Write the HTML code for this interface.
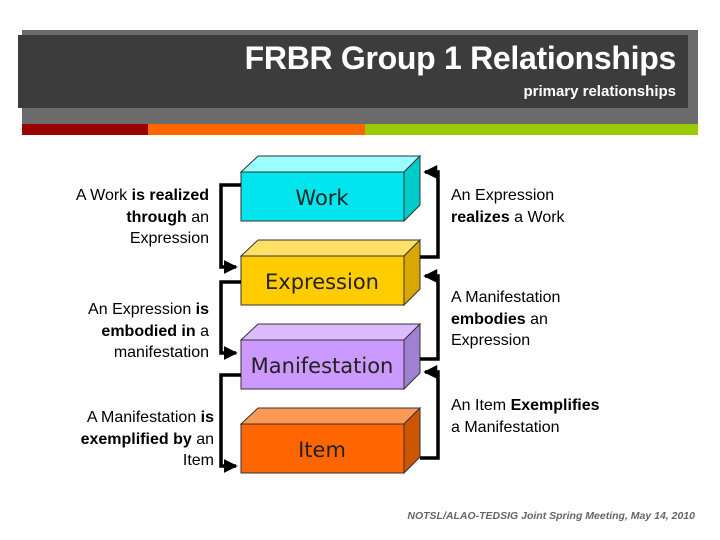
<html><body style="margin:0;width:720px;height:540px;background:#fff;position:relative;overflow:hidden;font-family:'Liberation Sans',sans-serif">
<div style="position:absolute;left:22px;top:30px;width:676px;height:94px;background:#6b6b6b"></div>
<div style="position:absolute;left:18px;top:35px;width:670px;height:73px;background:#3c3c3c"></div>
<div style="position:absolute;left:22px;top:124px;width:126px;height:11px;background:#990000"></div>
<div style="position:absolute;left:148px;top:124px;width:217px;height:11px;background:#ff6600"></div>
<div style="position:absolute;left:365px;top:124px;width:333px;height:11px;background:#99cc00"></div>
<div style="position:absolute;right:44px;top:40px;color:#fff;font-size:32px;font-weight:bold;font-family:'Liberation Sans Narrow',sans-serif;letter-spacing:-0.3px">FRBR Group 1 Relationships</div>
<div style="position:absolute;right:44px;top:83px;color:#fff;font-size:15px;font-weight:bold;font-family:'Liberation Sans Narrow',sans-serif">primary relationships</div>
<svg width="720" height="540" style="position:absolute;left:0;top:0" font-family="Liberation Sans, sans-serif">
<defs><marker id="a" markerWidth="4" markerHeight="4" refX="3.5" refY="2" orient="auto"><path d="M0,0L4,2L0,4z" fill="#000"/></marker></defs>
<g stroke="#333" stroke-width="1">
<polygon points="241,172 258,156 420,156 404,172" fill="#99ffff"/><polygon points="404,172 420,156 420,205 404,221" fill="#00cccc"/><rect x="241" y="172" width="163" height="49" fill="#00e5ee"/>
<polygon points="241,256 258,240 420,240 404,256" fill="#ffe066"/><polygon points="404,256 420,240 420,289 404,305" fill="#d9a800"/><rect x="241" y="256" width="163" height="49" fill="#ffcc00"/>
<polygon points="241,340 258,324 420,324 404,340" fill="#ddbbff"/><polygon points="404,340 420,324 420,373 404,389" fill="#a080d0"/><rect x="241" y="340" width="163" height="49" fill="#cc99ff"/>
<polygon points="241,424 258,408 420,408 404,424" fill="#ff9955"/><polygon points="404,424 420,408 420,457 404,473" fill="#cc5500"/><rect x="241" y="424" width="163" height="49" fill="#ff6600"/>
</g>
<g font-size="21" text-anchor="middle" fill="#222" font-family="DejaVu Sans, sans-serif"><text x="322" y="205">Work</text><text x="322" y="289">Expression</text><text x="322" y="373">Manifestation</text><text x="322" y="457">Item</text></g>
<g stroke="#000" stroke-width="3.5" fill="none" marker-end="url(#a)">
<path d="M241,185H221V267H236"/><path d="M241,282H221V353H236"/><path d="M241,375H221V466H236"/>
<path d="M420,257H438V172H425"/><path d="M420,359H438V276H425"/><path d="M420,458H438V372H425"/>
</g>
<g font-size="16" text-anchor="end" fill="#000">
<text x="209" y="200">A Work <tspan font-weight="bold">is realized</tspan></text><text x="209" y="222"><tspan font-weight="bold">through</tspan> an</text><text x="209" y="243">Expression</text>
<text x="209" y="314">An Expression <tspan font-weight="bold">is</tspan></text><text x="209" y="336"><tspan font-weight="bold">embodied in</tspan> a</text><text x="209" y="357">manifestation</text>
<text x="214" y="422">A Manifestation <tspan font-weight="bold">is</tspan></text><text x="214" y="444"><tspan font-weight="bold">exemplified by</tspan> an</text><text x="214" y="465">Item</text>
</g>
<g font-size="16" fill="#000">
<text x="451" y="200">An Expression</text><text x="451" y="222"><tspan font-weight="bold">realizes</tspan> a Work</text>
<text x="451" y="302">A Manifestation</text><text x="451" y="324"><tspan font-weight="bold">embodies</tspan> an</text><text x="451" y="345">Expression</text>
<text x="451" y="410">An Item <tspan font-weight="bold">Exemplifies</tspan></text><text x="451" y="432">a Manifestation</text>
</g>
<text x="695" y="519" font-size="10.5" text-anchor="end" fill="#666" font-weight="bold" font-style="italic">NOTSL/ALAO-TEDSIG Joint Spring Meeting, May 14, 2010</text>
</svg>
</body></html>
